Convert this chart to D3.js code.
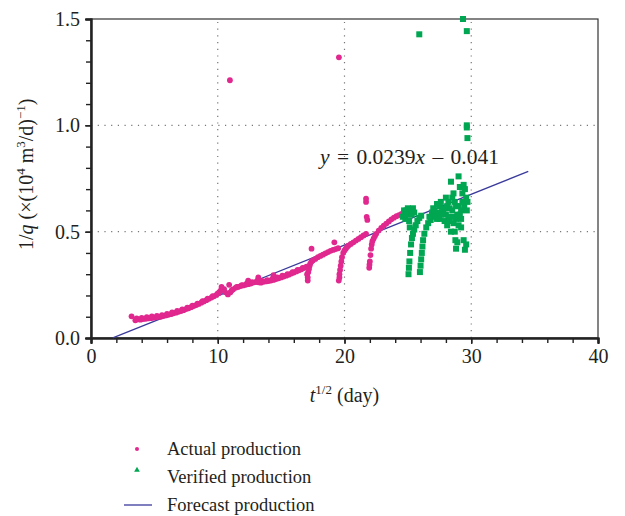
<!DOCTYPE html>
<html><head><meta charset="utf-8">
<script src="https://cdn.jsdelivr.net/npm/d3@7"></script>
<style>
body{margin:0;background:#fff;}
text{font-family:"Liberation Serif","Times New Roman",serif;fill:#231f20;}
</style></head>
<body><svg id="c" width="625" height="516"></svg>
<script>
// ---- data ----
const xTicks = [0, 10, 20, 30, 40];
const yTicks = [0.0, 0.5, 1.0, 1.5];
const xGrid = [10, 20, 30];
const yGrid = [0.5, 1.0];
const fitSlope = 0.0239, fitIntercept = -0.041;
const fitRange = [1.72, 34.5];
const legendLabels = ["Actual production", "Verified production", "Forecast production"];
const actualX = [3.2,3.5,3.7,3.9,4.1,4.3,4.5,4.7,4.9,5.1,5.3,5.5,5.7,5.9,6.1,6.3,6.5,6.7,6.9,7.1,7.3,7.5,7.7,7.9,8.1,8.3,8.5,8.7,8.9,9.1,9.3,9.5,9.7,9.9,10.1,10.2,10.4,10.6,10.8,11.0,11.2,11.4,11.6,11.8,12.0,12.2,12.4,12.6,12.8,13.0,13.2,13.4,13.6,13.8,14.0,14.2,14.4,14.6,14.8,15.0,15.2,15.4,15.6,15.8,16.0,16.2,16.4,16.6,16.8,17.0,
  3.6,4.0,4.4,4.8,5.2,5.6,6.0,6.4,6.8,7.2,7.6,8.0,8.4,8.8,9.2,9.6,10.0,10.5,11.1,11.5,11.9,12.3,12.7,13.1,13.5,13.9,14.3,14.7,15.1,15.5,15.9,16.3,16.7,
  10.96,10.9,10.3,12.4,13.2,14.4,
  17.05,17.1,17.1,17.15,17.2,17.25,17.3,17.4,17.5,17.7,17.9,18.1,18.3,18.5,18.7,18.9,19.1,19.3,19.5,17.4,19.2,
  19.55,19.6,19.6,19.65,19.7,19.75,19.8,19.9,20.0,20.1,20.2,20.3,20.5,20.7,20.9,21.1,21.3,21.5,21.7,21.7,21.7,21.8,21.75,19.56,
  21.95,21.97,22.0,22.05,22.1,22.15,22.2,22.3,22.4,22.5,22.7,22.9,23.1,23.3,23.5,23.7,23.9,24.1,24.3,24.5,24.7,24.9,25.1];
const actualY = [0.102,0.083,0.088,0.086,0.089,0.090,0.092,0.093,0.095,0.097,0.099,0.100,0.103,0.106,0.109,0.112,0.116,0.119,0.123,0.127,0.131,0.136,0.140,0.145,0.150,0.155,0.160,0.166,0.172,0.178,0.184,0.190,0.196,0.203,0.212,0.222,0.226,0.215,0.205,0.215,0.228,0.236,0.240,0.244,0.247,0.250,0.253,0.256,0.260,0.263,0.262,0.260,0.264,0.266,0.268,0.270,0.273,0.277,0.281,0.285,0.289,0.293,0.298,0.303,0.308,0.313,0.318,0.323,0.329,0.335,
  0.092,0.094,0.098,0.101,0.104,0.108,0.113,0.120,0.127,0.135,0.143,0.152,0.162,0.173,0.185,0.197,0.210,0.230,0.224,0.240,0.249,0.257,0.263,0.268,0.268,0.272,0.278,0.285,0.293,0.300,0.310,0.320,0.330,
  1.212,0.250,0.240,0.270,0.285,0.295,
  0.300,0.270,0.285,0.310,0.325,0.340,0.350,0.360,0.365,0.372,0.380,0.386,0.392,0.398,0.404,0.410,0.414,0.418,0.422,0.420,0.450,
  0.270,0.285,0.300,0.320,0.340,0.360,0.380,0.400,0.412,0.420,0.428,0.434,0.442,0.450,0.458,0.466,0.474,0.482,0.490,0.640,0.655,0.555,0.570,1.320,
  0.330,0.345,0.360,0.390,0.420,0.440,0.455,0.468,0.480,0.490,0.505,0.518,0.528,0.538,0.548,0.558,0.566,0.573,0.578,0.584,0.590,0.595,0.600];
const verifiedX = [24.6,24.7,24.8,24.9,25.0,25.0,25.1,25.2,25.3,25.4,25.5,24.7,25.15,24.8,25.3,
  25.05,25.08,25.12,25.18,25.25,25.32,25.4,25.5,25.62,25.75,25.9,26.05,
  25.95,26.0,26.05,26.1,26.15,26.2,26.3,26.45,26.6,26.8,27.0,27.2,27.4,27.5,27.6,27.8,28.0,28.1,28.2,28.3,28.4,28.5,28.6,28.6,28.7,28.75,28.8,28.9,29.0,29.0,29.1,29.2,29.3,29.3,29.4,29.5,29.6,29.4,28.0,27.9,28.8,29.2,28.4,29.5,29.6,27.7,28.9,
  26.7,26.9,27.1,27.3,27.6,27.9,28.2,28.5,28.8,29.1,29.45,27.0,27.3,28.3,28.7,29.2,29.65,29.7,28.1,28.6,29.0,27.5,
  25.9,29.35,29.65,29.65,29.65,29.7];
const verifiedY = [0.57,0.59,0.56,0.60,0.58,0.61,0.55,0.60,0.58,0.61,0.59,0.60,0.52,0.58,0.60,
  0.30,0.33,0.36,0.40,0.44,0.47,0.49,0.51,0.53,0.55,0.565,0.575,
  0.31,0.34,0.37,0.40,0.43,0.46,0.49,0.52,0.54,0.555,0.57,0.58,0.59,0.62,0.64,0.60,0.58,0.62,0.57,0.61,0.735,0.66,0.68,0.54,0.50,0.46,0.42,0.45,0.62,0.76,0.71,0.60,0.64,0.68,0.46,0.415,0.44,0.72,0.66,0.55,0.56,0.52,0.50,0.70,0.66,0.60,0.58,
  0.57,0.59,0.60,0.56,0.58,0.61,0.64,0.60,0.62,0.58,0.62,0.61,0.63,0.55,0.64,0.56,0.60,0.64,0.53,0.57,0.53,0.56,
  1.428,1.50,1.443,1.00,0.99,0.94];

// ---- chart ----
const W = 625, H = 516;
const m = {left: 91, right: 27, top: 19, bottom: 178};
const svg = d3.select("#c");
const x = d3.scaleLinear().domain([0, 40]).range([m.left, W - m.right]);
const y = d3.scaleLinear().domain([0, 1.5]).range([H - m.bottom, m.top]);
const pink = "#e0288f", green = "#00a651", navy = "#3a3a9c";

// grid
const g = svg.append("g");
g.selectAll(".gx").data(xGrid).join("line")
  .attr("x1", d => x(d)).attr("x2", d => x(d)).attr("y1", y(0)).attr("y2", y(1.5))
  .attr("stroke", "#777").attr("stroke-width", 1.2).attr("stroke-dasharray", "1.2,5.5");
g.selectAll(".gy").data(yGrid).join("line")
  .attr("y1", d => y(d)).attr("y2", d => y(d)).attr("x1", x(0)).attr("x2", x(40))
  .attr("stroke", "#777").attr("stroke-width", 1.2).attr("stroke-dasharray", "1.2,5.5");

// frame
svg.append("rect").attr("x", x(0)).attr("y", y(1.5)).attr("width", x(40) - x(0)).attr("height", y(0) - y(1.5))
  .attr("fill", "none").attr("stroke", "#333").attr("stroke-width", 1.2);

// axes
const fmtY = d3.format(".1f");
const xMinor = d3.range(0, 40.01, 2);
const yMinor = d3.range(0, 1.501, 0.1);
const xa = svg.append("g").attr("transform", `translate(0,${y(0)})`)
  .call(d3.axisBottom(x).tickValues(xMinor).tickSize(5).tickFormat(""));
const xb = svg.append("g").attr("transform", `translate(0,${y(0)})`)
  .call(d3.axisBottom(x).tickValues(xTicks).tickSize(6).tickPadding(5).tickFormat(d3.format("d")));
const ya = svg.append("g").attr("transform", `translate(${x(0)},0)`)
  .call(d3.axisLeft(y).tickValues(yMinor).tickSize(5).tickFormat(""));
const yb = svg.append("g").attr("transform", `translate(${x(0)},0)`)
  .call(d3.axisLeft(y).tickValues(yTicks).tickSize(6).tickPadding(5).tickFormat(fmtY));
[xa, xb, ya, yb].forEach(a => {
  a.selectAll("path").attr("stroke", "#222").attr("stroke-width", 2);
  a.selectAll("line").attr("stroke", "#222").attr("stroke-width", 1.4);
  a.selectAll("text").style("font-family", "'Liberation Serif',serif").style("font-size", "20px").attr("fill", "#231f20");
});

// fit line
svg.append("line")
  .attr("x1", x(fitRange[0])).attr("y1", y(fitSlope * fitRange[0] + fitIntercept))
  .attr("x2", x(fitRange[1])).attr("y2", y(fitSlope * fitRange[1] + fitIntercept))
  .attr("stroke", navy).attr("stroke-width", 1.3);

// actual points
const actual = actualX.map((v, i) => [v, actualY[i]]);
svg.append("g").selectAll("circle").data(actual).join("circle")
  .attr("cx", d => x(d[0])).attr("cy", d => y(d[1])).attr("r", 2.9).attr("fill", pink);

// verified points
const verified = verifiedX.map((v, i) => [v, verifiedY[i]]);
svg.append("g").selectAll("rect").data(verified).join("rect")
  .attr("x", d => x(d[0]) - 3).attr("y", d => y(d[1]) - 3).attr("width", 6).attr("height", 6).attr("fill", green);

// equation
const eq = svg.append("text").attr("x", 320).attr("y", 164).style("font-size", "21.5px").style("word-spacing", "2px");
eq.append("tspan").style("font-style", "italic").text("y");
eq.append("tspan").text(" = 0.0239");
eq.append("tspan").style("font-style", "italic").text("x");
eq.append("tspan").text(" \u2013 0.041");

// x title
const xt = svg.append("text").attr("x", x(20)).attr("y", 402).attr("text-anchor", "middle").style("font-size", "20px");
xt.append("tspan").style("font-style", "italic").text("t");
xt.append("tspan").attr("dy", -8).style("font-size", "13px").text("1/2");
xt.append("tspan").attr("dy", 8).text(" (day)");

// y title
const yt = svg.append("text").attr("transform", `translate(33,${y(0.77)}) rotate(-90)`).attr("text-anchor", "middle").style("font-size", "20px");
yt.append("tspan").text("1/");
yt.append("tspan").style("font-style", "italic").text("q");
yt.append("tspan").text(" (\u00d7(10");
yt.append("tspan").attr("dy", -8).style("font-size", "13px").text("4");
yt.append("tspan").attr("dy", 8).text(" m");
yt.append("tspan").attr("dy", -8).style("font-size", "13px").text("3");
yt.append("tspan").attr("dy", 8).text("/d)");
yt.append("tspan").attr("dy", -8).style("font-size", "13px").text("\u22121");
yt.append("tspan").attr("dy", 8).text(")");

// legend
const lg = svg.append("g");
const ly = [449, 477, 505];
lg.append("circle").attr("cx", 137).attr("cy", ly[0]).attr("r", 2).attr("fill", pink);
lg.append("path").attr("d", d3.symbol(d3.symbolTriangle, 14)()).attr("transform", `translate(137,${ly[1] - 7})`).attr("fill", green);
lg.append("line").attr("x1", 124).attr("x2", 152).attr("y1", ly[2]).attr("y2", ly[2]).attr("stroke", navy).attr("stroke-width", 1.3);
lg.selectAll("text").data(legendLabels).join("text")
  .attr("x", 167).attr("y", (d, i) => ly[i] + 6).style("font-size", "18.5px").text(d => d);
</script></body></html>
